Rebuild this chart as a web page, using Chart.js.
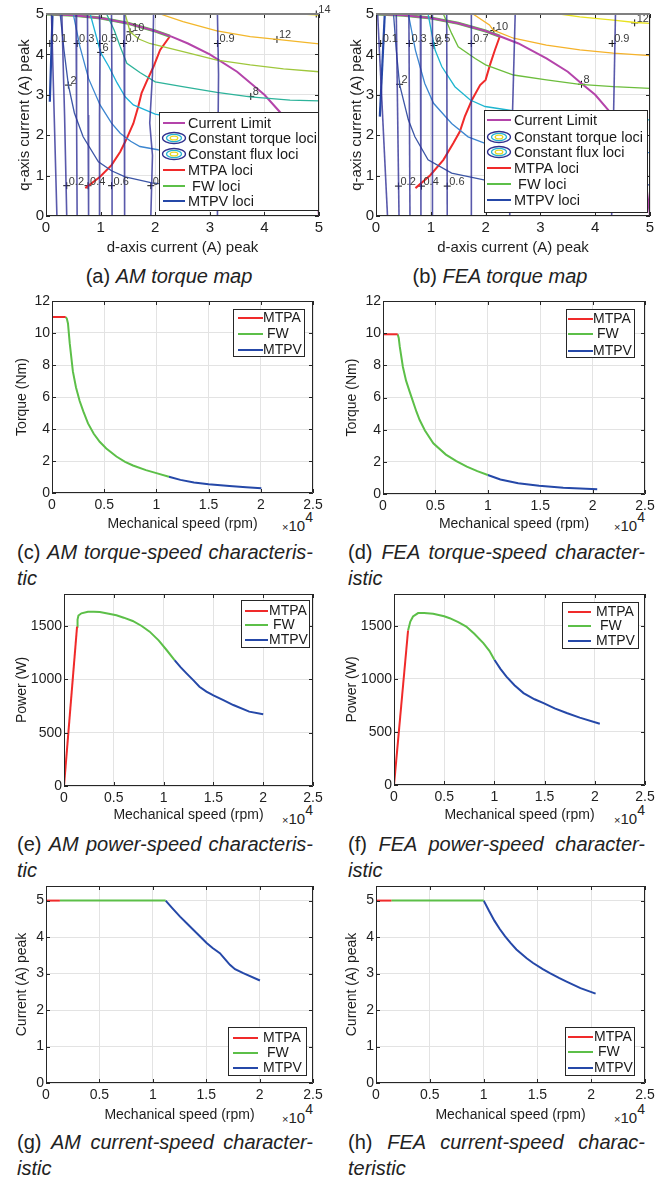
<!DOCTYPE html>
<html><head><meta charset="utf-8">
<script src="https://cdn.jsdelivr.net/npm/chart.js@4.4.1/dist/chart.umd.min.js"></script>
<style>
body{margin:0;background:#fff;width:666px;height:1180px;position:relative;overflow:hidden;font-family:"Liberation Sans",Arial,sans-serif;color:#222}
canvas{position:absolute}
.cap{position:absolute;font-size:20px;line-height:26px;white-space:nowrap}
.cap2{position:absolute;font-size:20px;line-height:26px;white-space:nowrap}
.j{text-align:justify;text-align-last:justify}
.x10{position:absolute;font-size:15px;line-height:18px;white-space:nowrap;color:#222}
.x10 .m{font-size:11px}
.x10 .e{font-size:14px;position:relative;top:-9px}
</style></head><body>
<div class="cap" style="left:19px;top:263px;width:300px;text-align:center">(a) <i>AM torque map</i></div>
<div class="cap" style="left:350px;top:263px;width:300px;text-align:center">(b) <i>FEA torque map</i></div>
<div class="cap2" style="left:17px;top:539px;width:296px"><div class="j">(c) <i>AM torque-speed characteris-</i></div><div><i>tic</i></div></div>
<div class="cap2" style="left:348px;top:539px;width:297px"><div class="j">(d) <i>FEA torque-speed character-</i></div><div><i>istic</i></div></div>
<div class="cap2" style="left:17px;top:831px;width:296px"><div class="j">(e) <i>AM power-speed characteris-</i></div><div><i>tic</i></div></div>
<div class="cap2" style="left:348px;top:831px;width:297px"><div class="j">(f) <i>FEA power-speed character-</i></div><div><i>istic</i></div></div>
<div class="cap2" style="left:17px;top:1129px;width:296px"><div class="j">(g) <i>AM current-speed character-</i></div><div><i>istic</i></div></div>
<div class="cap2" style="left:348px;top:1129px;width:297px"><div class="j">(h) <i>FEA current-speed charac-</i></div><div><i>teristic</i></div></div>
<div class="x10" style="left:282px;top:517px"><span class="m">×</span>10<span class="e">4</span></div>
<div class="x10" style="left:614px;top:517px"><span class="m">×</span>10<span class="e">4</span></div>
<div class="x10" style="left:282px;top:810px"><span class="m">×</span>10<span class="e">4</span></div>
<div class="x10" style="left:614px;top:810px"><span class="m">×</span>10<span class="e">4</span></div>
<div class="x10" style="left:282px;top:1109px"><span class="m">×</span>10<span class="e">4</span></div>
<div class="x10" style="left:614px;top:1109px"><span class="m">×</span>10<span class="e">4</span></div>
<script>
// ================= DATA =================
// ---- torque maps: d-axis (x) / q-axis (y) current, A peak ----
const mapTicks = [0,1,2,3,4,5];
const mapTickLabels = ['0','1','2','3','4','5'];
const mapLegendLabels = ['Current Limit','Constant torque loci','Constant flux loci','MTPA loci',' FW loci','MTPV loci'];
const speedLegendLabels = ['MTPA',' FW','MTPV'];

// (a) AM torque map
const amLimit = [[0,5],[0.5,4.97],[1,4.9],[1.5,4.77],[2,4.58],[2.3,4.44],[2.6,4.27],[3,4.0],[3.5,3.57],[4,3.0],[4.3,2.55],[4.6,1.96],[4.8,1.4],[4.95,0.7],[5,0]];
const amFW = [[0,5],[0.5,4.97],[1,4.9],[1.5,4.77],[2,4.58],[2.27,4.45]];
const amMTPA = [[0.72,0.69],[0.99,0.97],[1.2,1.26],[1.36,1.59],[1.48,1.92],[1.6,2.29],[1.69,2.71],[1.75,3.04],[1.84,3.32],[1.97,3.7],[2.09,4.11],[2.27,4.45]];
const amMTPV = [[0.07,2.83],[0.12,5]];
const amFlux = [
  [[0.1,5],[0.15,2.5],[0.2,0]],
  [[0.29,5],[0.34,2.5],[0.38,0]],
  [[0.55,5],[0.56,2.5],[0.57,0]],
  [[0.76,5],[0.77,2.5],[0.78,0]],
  [[0.98,5],[0.99,4.2],[0.98,2.5],[0.98,0]],
  [[1.2,5],[1.21,2.5],[1.21,0]],
  [[1.43,5],[1.44,2.5],[1.44,0]],
  [[1.97,5],[1.95,3.5],[1.9,2.3],[1.95,1.5],[1.92,0]],
  [[3.14,5],[3.16,3.5],[3.15,2],[3.14,0]]
];
const amFluxMarks = [[0.07,4.27,'0.1'],[0.38,0.75,'0.2'],[0.57,4.27,'0.3'],[0.77,0.75,'0.4'],[0.98,4.27,'0.5'],[1.2,0.75,'0.6'],[1.42,4.27,'0.7'],[1.92,0.75,'0.8'],[3.14,4.27,'0.9']];
const amTorque = [
  [[0.26,5],[0.33,4.1],[0.41,3.24],[0.52,2.55],[0.68,1.96],[0.96,1.34],[1.2,1.12],[1.45,0.97],[1.94,0.82],[2.5,0.74],[3.5,0.66],[5,0.6]],
  [[0.5,5],[0.62,4.2],[0.78,3.4],[0.99,2.75],[1.2,2.3],[1.36,2.05],[1.55,1.85],[1.72,1.72],[2.05,1.64],[3,1.5],[4,1.44],[5,1.4]],
  [[0.81,5],[0.92,4.45],[1.0,4.05],[1.15,3.7],[1.3,3.3],[1.45,2.95],[1.6,2.75],[2.0,2.52],[2.5,2.4],[3.5,2.3],[5,2.25]],
  [[1.11,5],[1.25,4.6],[1.36,4.19],[1.48,3.78],[1.72,3.55],[2.0,3.32],[2.5,3.2],[3.13,3.06],[3.74,2.95],[4.47,2.87],[5,2.85]],
  [[1.45,5],[1.54,4.56],[1.7,4.38],[1.9,4.27],[2.51,4.07],[3.13,3.86],[3.74,3.74],[4.35,3.64],[5,3.57]],
  [[2.09,5],[2.51,4.81],[3.13,4.58],[3.74,4.44],[4.23,4.37],[5,4.26]],
  [[4.7,5],[5,4.97]]
];
const amTorqueColors = ['#3c56a6','#3c86d0','#1eb2d8','#2db39a','#9fc73c','#f3b72b','#f2e21c'];
const amTorqueMarks = [[0.41,3.24,'2'],[1.0,4.05,'6'],[3.75,2.96,'8'],[1.54,4.56,'10'],[4.23,4.37,'12'],[4.95,5.0,'14']];

// (b) FEA torque map
const feLimit = [[0,5],[0.5,4.97],[1,4.9],[1.5,4.77],[2,4.58],[2.26,4.45],[2.6,4.27],[3.11,3.9],[3.5,3.57],[3.75,3.28],[4,3.0],[4.24,2.62],[4.6,1.96],[4.8,1.4],[4.92,0.9],[5,0]];
const feFW = [[0,5],[0.5,4.97],[1,4.9],[1.5,4.77],[2,4.58],[2.26,4.45]];
const feMTPA = [[0.72,0.69],[0.99,1.01],[1.23,1.39],[1.41,1.8],[1.53,2.09],[1.62,2.46],[1.75,2.87],[1.9,3.24],[2.0,3.37],[2.08,3.74],[2.17,4.11],[2.26,4.45]];
const feMTPV = [[0.07,2.46],[0.16,5]];
const feFlux = [
  [[0.03,5],[0.21,0]],
  [[0.37,5],[0.42,0]],
  [[0.6,5],[0.62,0]],
  [[0.81,5],[0.82,0]],
  [[1.03,5],[1.03,0]],
  [[1.29,5],[1.3,0]],
  [[1.74,5],[1.74,0]],
  [[2.54,5],[2.44,0]],
  [[4.37,5],[4.3,0]]
];
const feFluxMarks = [[0.085,4.27,'0.1'],[0.41,0.74,'0.2'],[0.61,4.27,'0.3'],[0.83,0.74,'0.4'],[1.04,4.27,'0.5'],[1.3,0.74,'0.6'],[1.74,4.27,'0.7'],[2.45,0.74,'0.8'],[4.31,4.27,'0.9']];
const feTorque = [
  [[0.32,5],[0.37,4.1],[0.43,3.26],[0.59,2.38],[0.71,1.96],[0.95,1.39],[1.38,1.06],[1.99,0.89],[3,0.82],[4,0.79],[5,0.77]],
  [[0.59,5],[0.72,4.1],[0.89,3.28],[1.05,2.79],[1.38,2.29],[1.68,1.96],[1.99,1.8],[3,1.66],[4,1.6],[5,1.57]],
  [[0.95,5],[1.02,4.5],[1.08,4.1],[1.2,3.7],[1.44,3.2],[1.72,2.87],[1.99,2.71],[3,2.5],[4,2.42],[5,2.38]],
  [[1.23,5],[1.38,4.52],[1.5,4.19],[1.81,3.9],[2.0,3.74],[2.51,3.49],[3.11,3.37],[3.72,3.26],[4.33,3.2],[5,3.16]],
  [[1.77,5],[2.07,4.73],[2.14,4.6],[2.51,4.4],[3.11,4.23],[3.72,4.11],[4.33,4.03],[5,3.97]],
  [[3.35,5],[3.72,4.93],[4.33,4.85],[4.73,4.79],[5,4.77]]
];
const feTorqueColors = ['#3c56a6','#3c86d0','#1eb5cf','#6cbd3c','#f5b22a','#e8e21e'];
const feTorqueMarks = [[0.43,3.26,'2'],[1.06,4.22,'6'],[3.75,3.26,'8'],[2.15,4.59,'10'],[4.72,4.78,'12']];

// ---- speed characteristics: [rpm, value] ----
const speedTicks = [0,5000,10000,15000,20000,25000];
const speedTickLabels = ['0','0.5','1','1.5','2','2.5'];
const torqueTicks = [0,2,4,6,8,10,12];
const powerTicks = [0,500,1000,1500];
const currentTicks = [0,1,2,3,4,5];

const amTorqueMTPA = [[0,11.0],[1310,11.0]];
const amTorqueFW = [[1310,11.0],[1420,10.9],[1530,10.6],[1700,9.35],[2000,7.6],[2300,6.6],[2650,5.75],[3000,5.1],[3450,4.35],[4000,3.7],[4570,3.2],[5200,2.78],[6170,2.28],[7000,1.95],[7760,1.72],[9000,1.43],[10000,1.24],[11200,1.02]];
const amTorqueMTPV = [[11200,1.02],[12300,0.82],[13600,0.66],[15000,0.54],[17000,0.43],[18600,0.36],[20050,0.3]];
const feTorqueMTPA = [[0,9.93],[1400,9.93]];
const feTorqueFW = [[1400,9.93],[1500,9.7],[1600,9.16],[1900,7.9],[2200,7.05],[2550,6.35],[3200,5.1],[3500,4.6],[4000,3.95],[4800,3.15],[6000,2.45],[7000,2.05],[8000,1.7],[9000,1.42],[10000,1.18]];
const feTorqueMTPV = [[10000,1.18],[11200,0.9],[12900,0.67],[14900,0.51],[17200,0.39],[20440,0.29]];

const amPowerMTPA = [[0,0],[1310,1494]];
const amPowerFW = [[1310,1494],[1360,1560],[1450,1598],[1750,1619],[2400,1634],[3000,1634],[3600,1631],[4500,1615],[5260,1600],[6000,1578],[6900,1547],[7800,1500],[8600,1447],[9500,1365],[10300,1275],[11100,1181]];
const amPowerMTPV = [[11100,1181],[11700,1115],[12300,1056],[13000,990],[13600,931],[14300,885],[15000,850],[16000,805],[17000,759],[18600,697],[20000,672]];
const fePowerMTPA = [[0,0],[1400,1456]];
const fePowerFW = [[1400,1456],[1625,1540],[1894,1588],[2400,1620],[3000,1620],[3900,1613],[5000,1590],[5550,1572],[6400,1535],[7200,1493],[8000,1425],[8900,1337],[9500,1265],[10000,1180]];
const fePowerMTPV = [[10000,1180],[10600,1095],[11200,1022],[12000,940],[12900,866],[14000,808],[14900,772],[16000,722],[17200,678],[18500,635],[20500,577]];

const amCurrentMTPA = [[0,5],[1300,5]];
const amCurrentFW = [[1300,5],[11200,5]];
const amCurrentMTPV = [[11200,5],[11800,4.8],[12550,4.56],[13200,4.37],[13790,4.2],[15040,3.84],[15600,3.7],[16280,3.56],[16800,3.38],[17220,3.24],[17700,3.12],[18470,3.01],[20030,2.81]];
const feCurrentMTPA = [[0,5],[1430,5]];
const feCurrentFW = [[1430,5],[10010,5]];
const feCurrentMTPV = [[10010,5],[10500,4.72],[11000,4.45],[11500,4.22],[12000,4.02],[12500,3.84],[13050,3.66],[14000,3.42],[14600,3.29],[15500,3.12],[16160,3.01],[17000,2.88],[17710,2.78],[19000,2.6],[20410,2.45]];

// ================= DRAWING =================
Chart.defaults.font.family = "'Liberation Sans', Arial, Helvetica, sans-serif";
Chart.defaults.color = '#262626';
const COL = {red:'#f02a2a', green:'#5cbf48', blue:'#2548a8', mag:'#b444aa', flux:'rgba(48,48,150,0.8)', text:'#1a1a1a'};

function pts(a){ return a.map(p=>({x:p[0], y:p[1]})); }
function line(a,color,w){ return {data:pts(a), showLine:true, borderColor:color, backgroundColor:color, borderWidth:w, pointRadius:0, fill:false, tension:0}; }
function marks(m){ return {data:m.map(p=>({x:p[0],y:p[1]})), labelsText:m.map(p=>p[2]), showLine:false, pointStyle:'cross', pointRadius:3.5, borderColor:'#111', backgroundColor:'#111', borderWidth:1, clip:false}; }

const mplug = {
  id:'mplug',
  afterDatasetsDraw(chart){
    const o = chart.options.plugins.mplug || {};
    const ctx = chart.ctx, a = chart.chartArea, xs = chart.scales.x, ys = chart.scales.y;
    ctx.save();
    chart.data.datasets.forEach((ds,i)=>{
      if(!ds.labelsText) return;
      const meta = chart.getDatasetMeta(i);
      ctx.font = '11px "Liberation Sans", Arial'; ctx.fillStyle = '#3a3a3a';
      ctx.textAlign = 'left'; ctx.textBaseline = 'alphabetic';
      meta.data.forEach((p,j)=>ctx.fillText(ds.labelsText[j], p.x+2, p.y-1));
    });
    ctx.strokeStyle = '#262626'; ctx.lineWidth = 1; ctx.beginPath();
    const tl = 4;
    xs.ticks.forEach(t=>{const p=Math.round(xs.getPixelForValue(t.value))+0.5; ctx.moveTo(p,a.bottom); ctx.lineTo(p,a.bottom-tl); ctx.moveTo(p,a.top); ctx.lineTo(p,a.top+tl);});
    ys.ticks.forEach(t=>{const p=Math.round(ys.getPixelForValue(t.value))+0.5; ctx.moveTo(a.left,p); ctx.lineTo(a.left+tl,p); ctx.moveTo(a.right,p); ctx.lineTo(a.right-tl,p);});
    ctx.stroke();
    ctx.beginPath();
    ctx.moveTo(a.left+0.5,a.top); ctx.lineTo(a.left+0.5,a.bottom-0.5); ctx.lineTo(a.right-0.5,a.bottom-0.5); ctx.lineTo(a.right-0.5,a.top);
    ctx.stroke();
    ctx.beginPath(); ctx.strokeStyle = o.topColor || '#262626'; ctx.lineWidth = o.topWidth || 1;
    const ty = a.top + (o.topWidth ? 0 : 0.5);
    ctx.moveTo(a.left, ty); ctx.lineTo(a.right, ty); ctx.stroke();
    ctx.restore();
  },
  afterDraw(chart){
    const o = chart.options.plugins.mplug || {}; const L = o.legend; if(!L) return;
    const ctx = chart.ctx, ox = o.ox, oy = o.oy;
    ctx.save();
    const x1 = Math.round(L.box[0]-ox), y1 = Math.round(L.box[1]-oy), x2 = Math.round(L.box[2]-ox), y2 = Math.round(L.box[3]-oy);
    ctx.fillStyle = '#fff'; ctx.fillRect(x1,y1,x2-x1,y2-y1);
    ctx.strokeStyle = '#262626'; ctx.lineWidth = 1; ctx.strokeRect(x1+0.5,y1+0.5,x2-x1-1,y2-y1-1);
    ctx.font = L.font; ctx.textBaseline = 'middle'; ctx.textAlign = 'left';
    L.items.forEach(it=>{
      const y = it.y - oy;
      if(it.type === 'ell'){
        const cx = (L.s1+L.s2)/2 - ox;
        const rings = [[11.5,5.5,'#30308e'],[7.5,3.6,'#25b2d2'],[3.8,1.9,'#e8d61e']];
        rings.forEach(r=>{ctx.beginPath(); ctx.strokeStyle=r[2]; ctx.lineWidth=1.3; ctx.ellipse(cx,y,r[0],r[1],0,0,Math.PI*2); ctx.stroke();});
      } else {
        ctx.beginPath(); ctx.strokeStyle = it.color; ctx.lineWidth = 2; ctx.moveTo(L.s1-ox,y); ctx.lineTo(L.s2-ox,y); ctx.stroke();
      }
      ctx.fillStyle = COL.text; ctx.fillText(it.text, L.tx-ox, y+0.5);
    });
    ctx.restore();
  }
};

function mkChart(o){
  const padTop = 12, padRight = Math.min(16, 666 - o.R);
  const cl = Math.round(o.ytx - o.titleSize*0.6);
  const ct = o.T - padTop;
  const cr = o.R + padRight;
  const cb = Math.round(o.xty + o.titleSize*0.6);
  const cv = document.createElement('canvas');
  cv.width = cr - cl; cv.height = cb - ct;
  cv.style.left = cl+'px'; cv.style.top = ct+'px';
  cv.style.width = (cr-cl)+'px'; cv.style.height = (cb-ct)+'px';
  document.body.appendChild(cv);
  const yW = o.L - cl, xH = cb - o.B;
  if(o.legend){ o.legend.items = o.legendItems; }
  const axis = (min,max,ticks,labels,title,isX,pad)=>({
    type:'linear', min:min, max:max,
    afterBuildTicks:s=>{ s.ticks = ticks.map(v=>({value:v})); },
    afterFit:s=>{ if(isX) s.height = xH; else s.width = yW; },
    ticks:{callback:(v,i)=>labels[i], font:{size:o.tickSize}, color:'#1e1e1e', padding:pad, maxRotation:0, autoSkip:false},
    grid:{color:'#e3e3e3', lineWidth:1, drawTicks:false},
    border:{display:false},
    title:{display:true, text:title, font:{size:o.titleSize}, color:'#1e1e1e', padding:0}
  });
  new Chart(cv, {
    type:'scatter',
    data:{datasets:o.datasets},
    options:{
      responsive:false, animation:false, devicePixelRatio:1,
      layout:{padding:{top:padTop, right:padRight, left:0, bottom:0}},
      plugins:{legend:{display:false}, tooltip:{enabled:false},
        mplug:{legend:o.legend, ox:cl, oy:ct, topColor:o.topColor, topWidth:o.topWidth}},
      scales:{
        x:axis(o.xmin,o.xmax,o.xticks,o.xlabels,o.xTitle,true,o.xpad),
        y:axis(o.ymin,o.ymax,o.yticks,o.ylabels,o.yTitle,false,o.ypad)
      }
    },
    plugins:[mplug]
  });
}

function mapDatasets(flux, fluxMarks, torque, tColors, tMarks, limit, fw, mtpa, mtpv){
  const ds = [];
  flux.forEach(f=>ds.push(line(f, COL.flux, 1.6)));
  torque.forEach((t,i)=>ds.push(line(t, tColors[i], 1.3)));
  ds.push(line(limit, COL.mag, 2));
  ds.push(line(fw, COL.green, 3));
  ds.push(line(mtpa, COL.red, 2));
  ds.push(line(mtpv, COL.blue, 2.2));
  ds.push(marks(fluxMarks));
  ds.push(marks(tMarks));
  return ds;
}
function mapLegendItems(rows){
  const cols = [COL.mag,null,null,COL.red,COL.green,COL.blue];
  return mapLegendLabels.map((t,i)=>({text:t, y:rows[i], color:cols[i], type: cols[i] ? 'line' : 'ell'}));
}
function speedLegendItems(rows){
  const cols = [COL.red, COL.green, COL.blue];
  return speedLegendLabels.map((t,i)=>({text:t, y:rows[i], color:cols[i], type:'line'}));
}
const mapBase = {xmin:0,xmax:5,ymin:0,ymax:5,xticks:mapTicks,xlabels:mapTickLabels,yticks:mapTicks,ylabels:mapTickLabels,
  xTitle:'d-axis current (A) peak', yTitle:'q-axis current (A) peak', tickSize:15, titleSize:15, xpad:3, ypad:2, topColor:'#808080', topWidth:2};

mkChart(Object.assign({}, mapBase, {L:46,T:14,R:319,B:216, ytx:25, xty:248,
  datasets: mapDatasets(amFlux, amFluxMarks, amTorque, amTorqueColors, amTorqueMarks, amLimit, amFW, amMTPA, amMTPV),
  legend:{box:[159,112,319,211], s1:163, s2:185, tx:188, font:'14.5px "Liberation Sans", Arial'},
  legendItems: mapLegendItems([123,138,154,170,186,201])}));
mkChart(Object.assign({}, mapBase, {L:376,T:14,R:650,B:216, ytx:357, xty:248,
  datasets: mapDatasets(feFlux, feFluxMarks, feTorque, feTorqueColors, feTorqueMarks, feLimit, feFW, feMTPA, feMTPV),
  legend:{box:[484,110,648,213], s1:487, s2:511, tx:514, font:'14.5px "Liberation Sans", Arial'},
  legendItems: mapLegendItems([120,137,152,168,184,200])}));

const spBase = {xmin:0,xmax:25000,xticks:speedTicks,xlabels:speedTickLabels,xTitle:'Mechanical speed (rpm)', tickSize:14, titleSize:14, xpad:4, ypad:2};
const lf = '14px "Liberation Sans", Arial';
function spDs(a,b,c){ return [line(a,COL.red,2), line(b,COL.green,2), line(c,COL.blue,2)]; }

mkChart(Object.assign({}, spBase, {L:52,T:301,R:313,B:493, ytx:22, xty:525, ymin:0,ymax:12, yticks:torqueTicks, ylabels:torqueTicks.map(String), yTitle:'Torque (Nm)',
  datasets: spDs(amTorqueMTPA, amTorqueFW, amTorqueMTPV),
  legend:{box:[233,309,305,357], s1:238, s2:263, tx:263, font:lf}, legendItems: speedLegendItems([318,334,350])}));
mkChart(Object.assign({}, spBase, {L:383,T:301,R:645,B:494, ytx:352, xty:525, ymin:0,ymax:12, yticks:torqueTicks, ylabels:torqueTicks.map(String), yTitle:'Torque (Nm)',
  datasets: spDs(feTorqueMTPA, feTorqueFW, feTorqueMTPV),
  legend:{box:[566,309,635,358], s1:568, s2:593, tx:593, font:lf}, legendItems: speedLegendItems([319,334,351])}));
mkChart(Object.assign({}, spBase, {L:64,T:594,R:313,B:786, ytx:22, xty:816, ymin:0,ymax:1800, yticks:powerTicks, ylabels:powerTicks.map(String), yTitle:'Power (W)',
  datasets: spDs(amPowerMTPA, amPowerFW, amPowerMTPV),
  legend:{box:[241,600,310,648], s1:245, s2:268, tx:269, font:lf}, legendItems: speedLegendItems([611,625,640])}));
mkChart(Object.assign({}, spBase, {L:394,T:594,R:645,B:785, ytx:352, xty:816, ymin:0,ymax:1800, yticks:powerTicks, ylabels:powerTicks.map(String), yTitle:'Power (W)',
  datasets: spDs(fePowerMTPA, fePowerFW, fePowerMTPV),
  legend:{box:[562,602,639,649], s1:568, s2:591, tx:596, font:lf}, legendItems: speedLegendItems([612,626,641])}));
mkChart(Object.assign({}, spBase, {L:46,T:886,R:313,B:1083, ytx:22, xty:1116, ymin:0,ymax:5.4, yticks:currentTicks, ylabels:currentTicks.map(String), yTitle:'Current (A) peak',
  datasets: spDs(amCurrentMTPA, amCurrentFW, amCurrentMTPV),
  legend:{box:[228,1027,307,1076], s1:233, s2:258, tx:263, font:lf}, legendItems: speedLegendItems([1038,1053,1068])}));
mkChart(Object.assign({}, spBase, {L:376,T:886,R:645,B:1083, ytx:352, xty:1116, ymin:0,ymax:5.4, yticks:currentTicks, ylabels:currentTicks.map(String), yTitle:'Current (A) peak',
  datasets: spDs(feCurrentMTPA, feCurrentFW, feCurrentMTPV),
  legend:{box:[565,1027,635,1076], s1:568, s2:593, tx:594, font:lf}, legendItems: speedLegendItems([1037,1052,1068])}));
</script>
</body></html>
